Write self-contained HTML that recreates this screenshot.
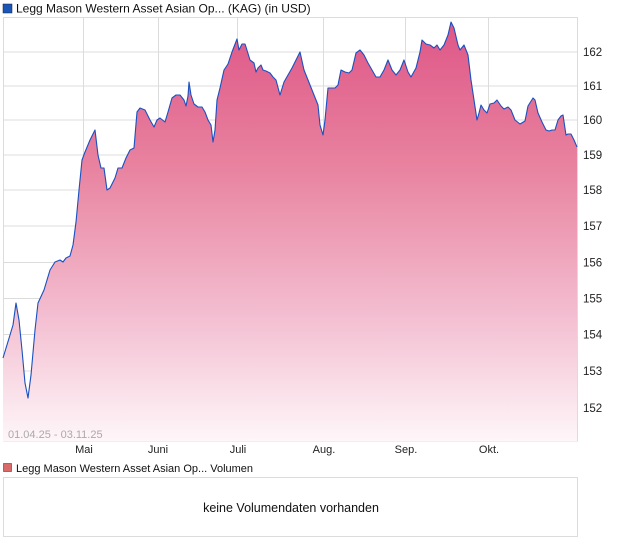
<!DOCTYPE html>
<html><head><meta charset="utf-8"><style>
body{margin:0;background:#fff;}
svg{display:block;font-family:"Liberation Sans",sans-serif;}
</style></head><body>
<svg width="620" height="546" viewBox="0 0 620 546">
<defs>
<linearGradient id="g" x1="0" y1="17" x2="0" y2="441" gradientUnits="userSpaceOnUse">
<stop offset="0" stop-color="#de5586"/>
<stop offset="0.35" stop-color="#e8829f"/>
<stop offset="0.7" stop-color="#f3bdd0"/>
<stop offset="1" stop-color="#fef6f9"/>
</linearGradient>
</defs>
<rect x="3" y="4" width="9" height="9" fill="#1c55b8" stroke="#123" stroke-width="0.5"/>
<text x="16" y="12.5" font-size="12" fill="#111">Legg Mason Western Asset Asian Op... (KAG) (in USD)</text>
<g stroke="#dcdcdc" stroke-width="1" fill="none">
<line x1="3" y1="52" x2="578" y2="52"/><line x1="3" y1="86" x2="578" y2="86"/>
<line x1="3" y1="120" x2="578" y2="120"/><line x1="3" y1="155" x2="578" y2="155"/>
<line x1="3" y1="190" x2="578" y2="190"/><line x1="3" y1="226" x2="578" y2="226"/>
<line x1="3" y1="262.5" x2="578" y2="262.5"/><line x1="3" y1="298.5" x2="578" y2="298.5"/>
<line x1="3" y1="334.5" x2="578" y2="334.5"/><line x1="3" y1="371" x2="578" y2="371"/>
<line x1="3" y1="408" x2="578" y2="408"/>
<line x1="83.5" y1="17" x2="83.5" y2="441"/><line x1="158.5" y1="17" x2="158.5" y2="441"/>
<line x1="237.5" y1="17" x2="237.5" y2="441"/><line x1="323.5" y1="17" x2="323.5" y2="441"/>
<line x1="405.5" y1="17" x2="405.5" y2="441"/><line x1="488.5" y1="17" x2="488.5" y2="441"/>
<rect x="3.5" y="17.5" width="574" height="423.5"/>
</g>
<path fill="url(#g)" d="M3,441 L3,358 10,335 13,325 16,303 19,320 22,350 25,383 28,398 31,375 35,330 38,303 44,290 50,270 55,262 60,260 63,262 66,258 70,256 73,245 76,222 79,190 82,160 85,152 90,140 95,130 98,155 101,168 104,168 107,190 110,188 115,178 118,168 122,168 126,158 130,150 134,148 137,112 140,108 145,110 150,120 154,127 157,120 160,118 165,122 168,112 172,98 176,95 180,95 184,100 186,106 188,96 189,82 191,95 194,104 198,107 202,107 205,112 208,120 211,125 213,142 215,130 217,100 220,88 224,70 228,64 232,52 237,39 239,50 242,44 245,44 246,47 250,60 254,63 256,72 258,68 261,65 263,70 266,71 270,73 273,77 276,80 280,95 284,82 288,75 292,68 296,60 300,52 304,70 306,75 310,85 314,95 318,105 320,125 323,135 325,120 328,88 332,88 335,88 338,85 341,70 345,72 349,73 352,70 356,53 360,50 364,55 368,63 372,70 376,77 380,77 384,70 388,60 392,70 396,75 400,70 404,60 408,72 411,77 416,68 420,52 422,40 426,44 430,45 434,48 437,45 440,50 444,45 448,35 451,22 454,28 458,45 460,50 464,45 468,55 471,80 474,100 477,120 479,113 481,105 484,110 487,113 490,104 494,103 497,100 501,106 504,109 508,107 511,110 515,120 520,124 525,121 528,106 533,98 535,100 538,113 542,122 546,130 549,131 552,130 555,130 558,120 561,116 563,115 566,135 568,134 571,134 574,140 577,147 L577,441 Z"/>
<polyline fill="none" stroke="#1a50c0" stroke-width="1.1" stroke-linejoin="round" points="3,358 10,335 13,325 16,303 19,320 22,350 25,383 28,398 31,375 35,330 38,303 44,290 50,270 55,262 60,260 63,262 66,258 70,256 73,245 76,222 79,190 82,160 85,152 90,140 95,130 98,155 101,168 104,168 107,190 110,188 115,178 118,168 122,168 126,158 130,150 134,148 137,112 140,108 145,110 150,120 154,127 157,120 160,118 165,122 168,112 172,98 176,95 180,95 184,100 186,106 188,96 189,82 191,95 194,104 198,107 202,107 205,112 208,120 211,125 213,142 215,130 217,100 220,88 224,70 228,64 232,52 237,39 239,50 242,44 245,44 246,47 250,60 254,63 256,72 258,68 261,65 263,70 266,71 270,73 273,77 276,80 280,95 284,82 288,75 292,68 296,60 300,52 304,70 306,75 310,85 314,95 318,105 320,125 323,135 325,120 328,88 332,88 335,88 338,85 341,70 345,72 349,73 352,70 356,53 360,50 364,55 368,63 372,70 376,77 380,77 384,70 388,60 392,70 396,75 400,70 404,60 408,72 411,77 416,68 420,52 422,40 426,44 430,45 434,48 437,45 440,50 444,45 448,35 451,22 454,28 458,45 460,50 464,45 468,55 471,80 474,100 477,120 479,113 481,105 484,110 487,113 490,104 494,103 497,100 501,106 504,109 508,107 511,110 515,120 520,124 525,121 528,106 533,98 535,100 538,113 542,122 546,130 549,131 552,130 555,130 558,120 561,116 563,115 566,135 568,134 571,134 574,140 577,147"/>
<g font-size="11.5" fill="#222">
<text x="583" y="56">162</text><text x="583" y="90">161</text><text x="583" y="124">160</text>
<text x="583" y="159">159</text><text x="583" y="194">158</text><text x="583" y="230">157</text>
<text x="583" y="266.5">156</text><text x="583" y="302.5">155</text><text x="583" y="338.5">154</text>
<text x="583" y="375">153</text><text x="583" y="412">152</text>
</g>
<text x="8" y="438" font-size="11" fill="#aaa">01.04.25 - 03.11.25</text>
<g font-size="11" fill="#222" text-anchor="middle">
<text x="84" y="453">Mai</text><text x="158" y="453">Juni</text><text x="238" y="453">Juli</text>
<text x="324" y="453">Aug.</text><text x="406" y="453">Sep.</text><text x="489" y="453">Okt.</text>
</g>
<rect x="3.5" y="463.5" width="8" height="8" fill="#d96a6a" stroke="#444" stroke-width="0.6"/>
<text x="16" y="472" font-size="11" fill="#111">Legg Mason Western Asset Asian Op... Volumen</text>
<rect x="3.5" y="477.5" width="574" height="59" fill="#fff" stroke="#dcdcdc"/>
<text x="291" y="512" font-size="12.5" fill="#111" text-anchor="middle">keine Volumendaten vorhanden</text>
</svg>
</body></html>
